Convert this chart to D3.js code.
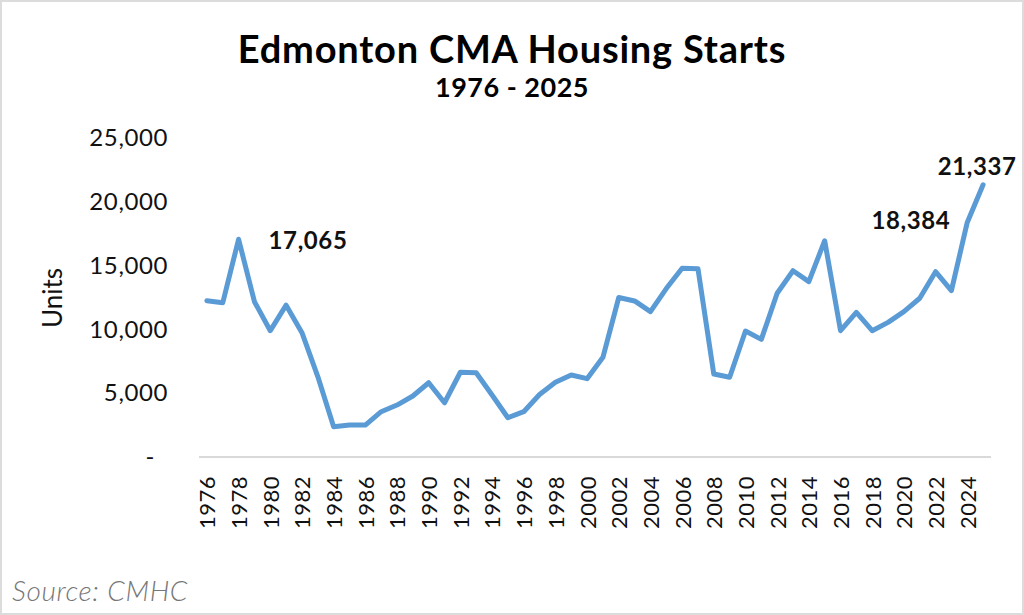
<!DOCTYPE html>
<html>
<head>
<meta charset="utf-8">
<script src="https://cdn.jsdelivr.net/npm/d3@7"></script>
<style>
  body { margin: 0; background: #fff; }
  text { font-family: Lato, "Open Sans", sans-serif; }
</style>
</head>
<body>
<div id="chart"></div>
<script>
// housing starts by year
const years = d3.range(1976, 2026);
const starts = [
    12250, 12090, 17065, 12170, 9900, 11900, 9740, 6300, 2370, 2500,
    2500, 3550, 4070, 4780, 5820, 4250, 6640, 6600, 4860, 3080,
    3550, 4900, 5850, 6430, 6140, 7810, 12500, 12230, 11390, 13200,
    14790, 14760, 6500, 6250, 9870, 9220, 12830, 14600, 13740, 16950,
    9900, 11340, 9900, 10550, 11390, 12440, 14520, 13040, 18384, 21337
];
const yTicks = [0, 5000, 10000, 15000, 20000, 25000];
const xTicks = years.filter((d) => (d - 1976) % 2 == 0);
const callouts = [
    { year: 1978, label: "17,065" },
    { year: 2024, label: "18,384" },
    { year: 2025, label: "21,337" }
];

const data = years.map((d, i) => ({ year: d, value: starts[i] }));

const W = 1024, H = 615;
const svg = d3.select("#chart").append("svg")
    .attr("width", W)
    .attr("height", H);

// frame
svg.append("rect")
    .attr("x", 1).attr("y", 1)
    .attr("width", W - 2).attr("height", H - 2)
    .attr("fill", "#fff")
    .attr("stroke", "#dcdcdc")
    .attr("stroke-width", 2);

// scales
var x = d3.scalePoint().domain(years).range([199, 991]).padding(0.5);
var y = d3.scaleLinear().domain([0, 25000]).range([457, 138]);

// title
svg.append("text")
    .attr("x", 512).attr("y", 63)
    .attr("text-anchor", "middle")
    .style("font-size", "38px")
    .style("font-weight", "bold")
    .style("letter-spacing", "0.8px")
    .text("Edmonton CMA Housing Starts");
svg.append("text")
    .attr("x", 512).attr("y", 97)
    .attr("text-anchor", "middle")
    .style("font-size", "27px")
    .style("font-weight", "bold")
    .style("letter-spacing", "0.5px")
    .text("1976 - 2025");

// baseline
svg.append("line")
    .attr("x1", 199).attr("x2", 991)
    .attr("y1", y(0)).attr("y2", y(0))
    .attr("stroke", "#d9d9d9")
    .attr("stroke-width", 2);

// y-axis
var yAxis = svg.append("g")
    .attr("transform", "translate(199, 0)")
    .call(d3.axisLeft(y).tickValues(yTicks).tickSize(0).tickPadding(31)
        .tickFormat((d) => d == 0 ? "-" : d3.format(",")(d)));
yAxis.select(".domain").remove();
yAxis.selectAll("text")
    .style("font-family", "Lato, sans-serif")
    .style("font-size", "24px")
    .style("letter-spacing", "0.6px")
    .attr("fill", "#111")
    .attr("dx", (d) => d == 0 ? -13 : 0);

// x-axis
var xAxis = svg.append("g")
    .attr("transform", `translate(0, ${y(0)})`)
    .call(d3.axisBottom(x).tickValues(xTicks).tickSize(0));
xAxis.select(".domain").remove();
xAxis.selectAll("text")
    .style("font-family", "Lato, sans-serif")
    .style("font-size", "22px")
    .style("letter-spacing", "0.5px")
    .attr("fill", "#111")
    .attr("transform", "rotate(-90)")
    .attr("text-anchor", "end")
    .attr("x", -19)
    .attr("y", 0)
    .attr("dy", "0.36em");

// y label
svg.append("text")
    .attr("transform", "translate(62, 298) rotate(-90)")
    .attr("text-anchor", "middle")
    .style("font-size", "26px")
    .attr("fill", "#111")
    .text("Units");

// the line
var valueLine = d3.line()
    .x((d) => x(d.year))
    .y((d) => y(d.value));

svg.append("path")
    .datum(data)
    .attr("fill", "none")
    .attr("stroke", "#5b9bd5")
    .attr("stroke-width", 5)
    .attr("stroke-linejoin", "round")
    .attr("stroke-linecap", "round")
    .attr("d", valueLine);

// value callouts
const offsets = {
    1978: { dx: 30, dy: 10, anchor: "start" },
    2024: { dx: -17, dy: 7, anchor: "end" },
    2025: { dx: -6, dy: -10, anchor: "middle" }
};
callouts.forEach((c) => {
    let v = starts[years.indexOf(c.year)];
    let o = offsets[c.year];
    svg.append("text")
        .attr("x", x(c.year) + o.dx)
        .attr("y", y(v) + o.dy)
        .attr("text-anchor", o.anchor)
        .style("font-size", "24px")
        .style("font-weight", "bold")
        .style("letter-spacing", "0.6px")
        .attr("fill", "#111")
        .text(c.label);
});

// source
svg.append("text")
    .attr("x", 12).attr("y", 601)
    .style("font-size", "28px")
    .style("font-style", "italic")
    .style("font-weight", "300")
    .style("letter-spacing", "0.6px")
    .attr("fill", "#777")
    .text("Source: CMHC");
</script>
</body>
</html>
